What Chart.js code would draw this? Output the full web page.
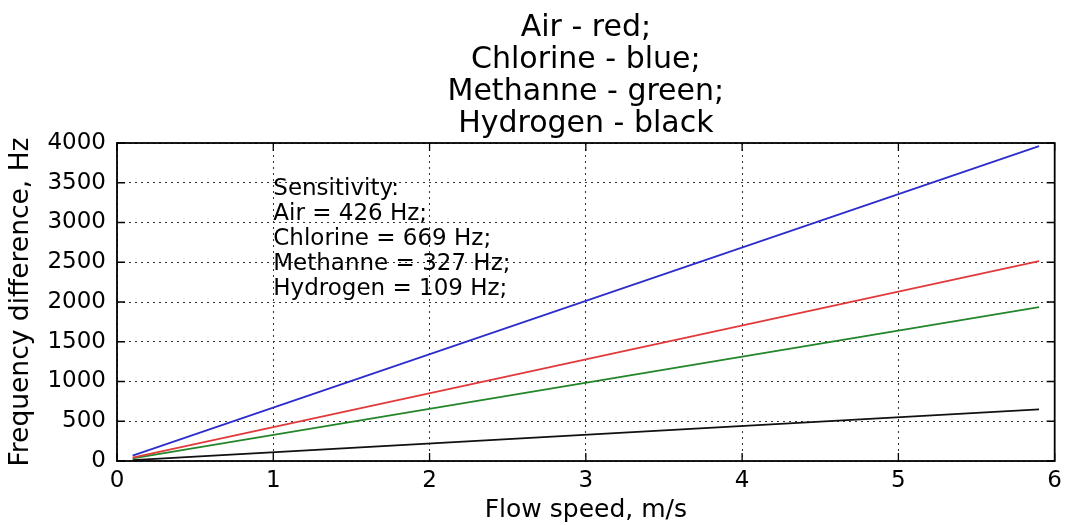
<!DOCTYPE html>
<html>
<head>
<meta charset="utf-8">
<script src="https://cdn.jsdelivr.net/npm/chart.js@4.4.1/dist/chart.umd.min.js"></script>
<style>
  html, body { margin: 0; padding: 0; background: #fff; }
  #wrap { width: 1068px; height: 525px; }
</style>
</head>
<body>
<div id="wrap"><canvas id="c" width="1068" height="525"></canvas></div>
<script>
const flowSpeed   = [0.1, 5.9];
const airHz       = [43, 2515];
const chlorineHz  = [67, 3960];
const methanneHz  = [33, 1935];
const hydrogenHz  = [11, 650];
const titleLines  = ['Air - red;', 'Chlorine - blue;', 'Methanne - green;', 'Hydrogen - black'];
const noteLines   = ['Sensitivity:', 'Air = 426 Hz;', 'Chlorine = 669 Hz;', 'Methanne = 327 Hz;', 'Hydrogen = 109 Hz;'];
const noteAnchor  = [1, 2000];
const xLabel = 'Flow speed, m/s';
const yLabel = 'Frequency difference, Hz';

const FONT = "'DejaVu Sans', Verdana, sans-serif";
Chart.defaults.font.family = FONT;
Chart.defaults.color = '#000';

function pts(xs, ys) { return xs.map((x, i) => ({ x: x, y: ys[i] })); }

const framePlugin = {
  id: 'frame',
  afterDraw(chart) {
    const { ctx, chartArea: a, scales } = chart;
    const xs = scales.x, ys = scales.y;
    ctx.save();
    ctx.strokeStyle = '#000';
    ctx.lineWidth = 1.3;
    const L = 8;
    ctx.beginPath();
    xs.ticks.forEach(t => {
      const px = xs.getPixelForValue(t.value);
      ctx.moveTo(px, a.bottom); ctx.lineTo(px, a.bottom - L);
      ctx.moveTo(px, a.top); ctx.lineTo(px, a.top + L);
    });
    ys.ticks.forEach(t => {
      const py = ys.getPixelForValue(t.value);
      ctx.moveTo(a.left, py); ctx.lineTo(a.left + L, py);
      ctx.moveTo(a.right, py); ctx.lineTo(a.right - L, py);
    });
    ctx.stroke();
    ctx.lineWidth = 1.8;
    ctx.strokeRect(a.left, a.top, a.right - a.left, a.bottom - a.top);
    ctx.fillStyle = '#000';
    ctx.font = '23px ' + FONT;
    ctx.textAlign = 'left';
    ctx.textBaseline = 'alphabetic';
    const ax = xs.getPixelForValue(noteAnchor[0]);
    const ay = ys.getPixelForValue(noteAnchor[1]) - 7;
    const n = noteLines.length;
    noteLines.forEach((s, i) => {
      ctx.fillText(s, ax, ay - (n - 1 - i) * 25);
    });
    ctx.restore();
  }
};

const lineDs = (label, data, color) => ({
  label, data, borderColor: color, backgroundColor: color,
  borderWidth: 1.8, pointRadius: 0, tension: 0, fill: false
});

new Chart(document.getElementById('c'), {
  type: 'line',
  data: {
    datasets: [
      lineDs('Air', pts(flowSpeed, airHz), '#e23a3a'),
      lineDs('Chlorine', pts(flowSpeed, chlorineHz), '#2d2dcc'),
      lineDs('Methanne', pts(flowSpeed, methanneHz), '#23862a'),
      lineDs('Hydrogen', pts(flowSpeed, hydrogenHz), '#111111')
    ]
  },
  options: {
    responsive: false,
    animation: false,
    devicePixelRatio: 1,
    layout: { padding: { left: 0, right: 10, top: 0, bottom: 0 } },
    plugins: {
      legend: { display: false },
      tooltip: { enabled: false },
      title: {
        display: true,
        fullSize: false,
        text: titleLines,
        color: '#000',
        font: { size: 30, weight: 'normal', lineHeight: 32 / 30 },
        padding: { top: 12, bottom: 3 }
      }
    },
    scales: {
      x: {
        type: 'linear',
        min: 0, max: 6,
        ticks: { stepSize: 1, font: { size: 23 }, padding: 6, color: '#000', callback: v => String(v) },
        grid: { color: '#333', lineWidth: 1, drawTicks: false },
        border: { display: false, dash: [2, 4] },
        title: { display: true, text: xLabel, font: { size: 25 }, padding: { top: 0, bottom: 0 }, color: '#000' },
        afterFit(s) { s.height = 64; }
      },
      y: {
        type: 'linear',
        min: 0, max: 4000,
        ticks: { stepSize: 500, font: { size: 23 }, padding: 11, color: '#000', callback: v => String(v) },
        grid: { color: '#333', lineWidth: 1, drawTicks: false },
        border: { display: false, dash: [2, 4] },
        title: { display: true, text: yLabel, font: { size: 26.5 }, padding: { top: 5, bottom: 0 }, color: '#000' },
        afterFit(s) { s.width = 117; }
      }
    }
  },
  plugins: [framePlugin]
});
</script>
</body>
</html>
